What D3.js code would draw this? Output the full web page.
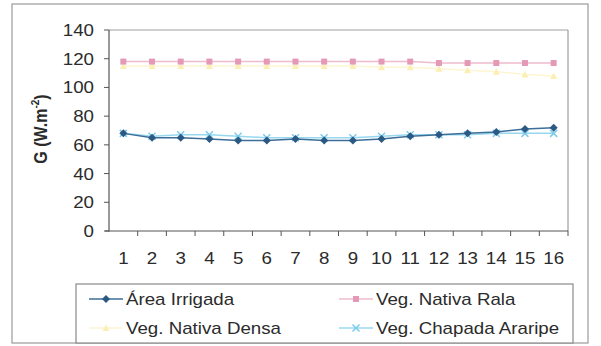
<!DOCTYPE html>
<html><head><meta charset="utf-8">
<script src="https://cdn.jsdelivr.net/npm/d3@7/dist/d3.min.js"></script>
<style>html,body{margin:0;padding:0;background:#fff}svg{display:block}</style>
</head><body>
<svg id="c" width="601" height="346"></svg>
<script>
const categories = ["1","2","3","4","5","6","7","8","9","10","11","12","13","14","15","16"];
const areaIrrigada = [68,65,65,64,63,63,64,63,63,64,66,67,68,69,71,72];
const vegNativaRala = [118,118,118,118,118,118,118,118,118,118,118,117,117,117,117,117];
const vegNativaDensa = [115,115,115,115,115,115,115,115,115,114,114,113,112,111,109,108];
const vegChapadaAraripe = [68,66,67,67,66,65,65,65,65,66,67,67,67,68,68,68];
const yTicks = [0,20,40,60,80,100,120,140];
const seriesNames = ["Área Irrigada","Veg. Nativa Rala","Veg. Nativa Densa","Veg. Chapada Araripe"];

const svg = d3.select("#c");
const S = 1.17, FS = 16, FONT = "'Liberation Sans', Arial, sans-serif", TC = "#2b2b2b";
function txt(g, x, y, s, anchor){
  return g.append("text").attr("transform",`translate(${x},${y}) scale(${S},1)`)
    .attr("text-anchor",anchor||"start").attr("font-family",FONT).attr("font-size",FS)
    .attr("fill",TC).text(s);
}
// outer frame
svg.append("rect").attr("x",12).attr("y",4).attr("width",576).attr("height",339)
  .attr("fill","none").attr("stroke","#9a9a9a").attr("stroke-width",1.2);

const L=109,R=568,T=30,B=231;
const x = d3.scaleBand().domain(categories).range([L,R]).padding(0);
const y = d3.scaleLinear().domain([0,140]).range([B,T]);

// plot area border
svg.append("line").attr("x1",L).attr("x2",R).attr("y1",T).attr("y2",T).attr("stroke","#a0a0a0");
svg.append("line").attr("x1",R).attr("x2",R).attr("y1",T).attr("y2",B).attr("stroke","#8a8a8a");

// axes
const ax = svg.append("g");
ax.append("line").attr("x1",L).attr("x2",L).attr("y1",T).attr("y2",B+0.5).attr("stroke","#555").attr("stroke-width",1.2);
ax.append("line").attr("x1",L-4).attr("x2",R).attr("y1",B).attr("y2",B).attr("stroke","#555").attr("stroke-width",1.2);
yTicks.forEach(t=>{
  ax.append("line").attr("x1",L-5).attr("x2",L).attr("y1",y(t)).attr("y2",y(t)).attr("stroke","#555");
  txt(ax, 94, y(t)+6, t, "end");
});
categories.forEach((c,i)=>{
  ax.append("line").attr("x1",x(c)+x.bandwidth()).attr("x2",x(c)+x.bandwidth()).attr("y1",B).attr("y2",B+5).attr("stroke","#555");
  txt(ax, x(c)+x.bandwidth()/2, 264, c, "middle");
});
// y title
const yt = svg.append("text").attr("transform",`translate(47,129) scale(${S},1) rotate(-90)`)
  .attr("text-anchor","middle").attr("font-family",FONT).attr("font-size",FS).attr("font-weight","bold").attr("fill",TC);
yt.append("tspan").text("G (W.m");
yt.append("tspan").attr("font-size",10).attr("dy",-7).text("-2");
yt.append("tspan").attr("dy",7).text(")");

// series
const series = [
  {name:seriesNames[2], vals:vegNativaDensa, line:"#fdf6d2", mk:"#faefb4", sym:"tri"},
  {name:seriesNames[1], vals:vegNativaRala, line:"#efbccd", mk:"#e49ab6", sym:"sq"},
  {name:seriesNames[3], vals:vegChapadaAraripe, line:"#98d8ef", mk:"#7ccbea", sym:"x"},
  {name:seriesNames[0], vals:areaIrrigada, line:"#3d6e98", mk:"#2c5983", sym:"dia"}
];
function marker(g, cx, cy, s){
  if(s.sym==="dia") g.append("path").attr("d",`M${cx},${cy-4}L${cx+4},${cy}L${cx},${cy+4}L${cx-4},${cy}Z`).attr("fill",s.mk);
  else if(s.sym==="sq") g.append("rect").attr("x",cx-3).attr("y",cy-3).attr("width",6).attr("height",6).attr("fill",s.mk);
  else if(s.sym==="tri") g.append("path").attr("d",`M${cx},${cy-3.5}L${cx+3.5},${cy+3}L${cx-3.5},${cy+3}Z`).attr("fill",s.mk);
  else g.append("path").attr("d",`M${cx-3.5},${cy-3.5}L${cx+3.5},${cy+3.5}M${cx+3.5},${cy-3.5}L${cx-3.5},${cy+3.5}`).attr("stroke",s.mk).attr("stroke-width",1.5);
}
const line = d3.line().x((d,i)=>x(categories[i])+x.bandwidth()/2).y(d=>y(d));
series.forEach(s=>{
  const g = svg.append("g");
  g.append("path").attr("d",line(s.vals)).attr("fill","none").attr("stroke",s.line).attr("stroke-width",1.5);
  s.vals.forEach((v,i)=>marker(g, x(categories[i])+x.bandwidth()/2, y(v), s));
});

// legend
const lg = svg.append("g");
lg.append("rect").attr("x",76).attr("y",284).attr("width",497).attr("height",59).attr("fill","#fff").attr("stroke","#8a8a8a").attr("stroke-width",1.2);
const legItems = [
  {s:series[3], x:89, y:299},
  {s:series[1], x:339, y:299},
  {s:series[0], x:89, y:328},
  {s:series[2], x:339, y:328}
];
// order: Irrigada (top-left), Rala (top-right), Densa (bottom-left), Chapada (bottom-right)
legItems[0].s = series[3]; legItems[1].s = series[1]; legItems[2].s = series[0]; legItems[3].s = series[2];
[[series[3],89,299],[series[1],339,299],[series[0],89,328],[series[2],339,328]].forEach(([s,lx,ly])=>{
  lg.append("line").attr("x1",lx).attr("x2",lx+34).attr("y1",ly).attr("y2",ly).attr("stroke",s.line).attr("stroke-width",1.5);
  marker(lg, lx+17, ly, s);
  txt(lg, lx+37, ly+6, s.name, "start");
});
</script>
</body></html>
